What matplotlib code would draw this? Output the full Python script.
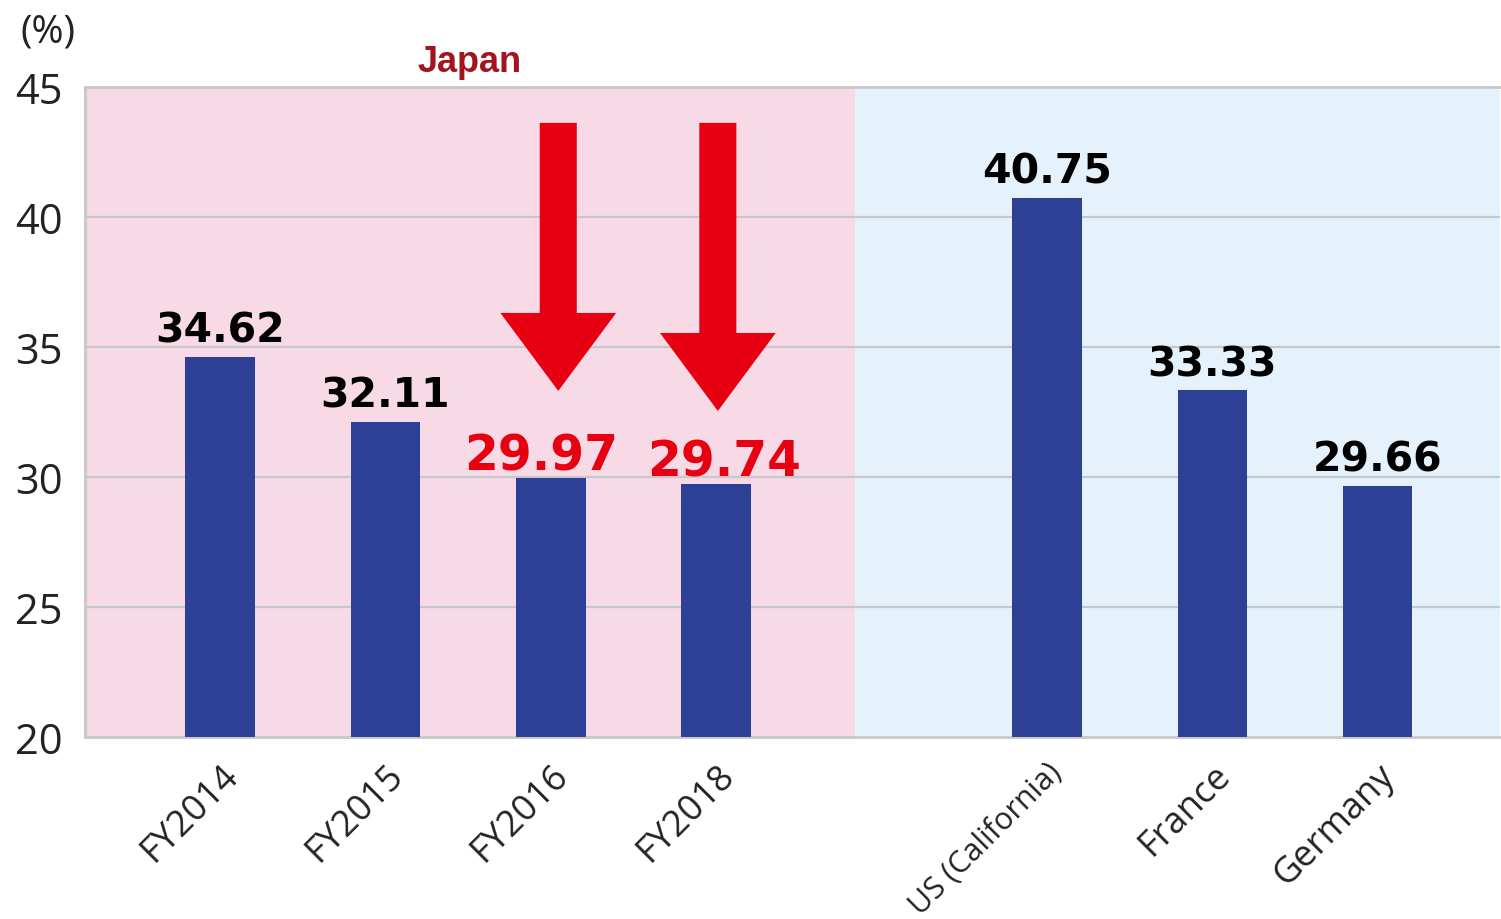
import numpy as np
import matplotlib.pyplot as plt
import matplotlib.transforms as mtransforms

categories = ['FY2014', 'FY2015', 'FY2016', 'FY2018', 'US (California)', 'France', 'Germany']
positions = [0, 1, 2, 3, 5, 6, 7]
values = [34.62, 32.11, 29.97, 29.74, 40.75, 33.33, 29.66]
highlight = [False, False, True, True, False, False, False]

bar_color = '#2E4096'
red = '#E60012'
pink = '#F8D9E6'
light_blue = '#E5F2FB'
grid_color = '#C4C8CC'

fig = plt.figure(figsize=(15.01, 9.2), dpi=100)
ax = fig.add_axes([85 / 1501, 182 / 920, 1415 / 1501, 650 / 920])

xmin, xmax, split = -0.817, 7.74, 3.84
ax.set_xlim(xmin, xmax)
ax.set_ylim(20, 45)

# shaded regions: Japan on the left, other countries on the right
ax.axvspan(xmin, split, color=pink, zorder=0, lw=0)
ax.axvspan(split, xmax, color=light_blue, zorder=0, lw=0)

ax.set_yticks([20, 25, 30, 35, 40, 45])
for y in [25, 30, 35, 40]:
    ax.axhline(y, color=grid_color, lw=1.6, zorder=1)

ax.bar(positions, [v - 20 for v in values], bottom=20, width=0.42,
       color=bar_color, zorder=3)

red_shift = {2: -7, 3: 6}
for x, v, hl in zip(positions, values, highlight):
    if hl:
        ax.annotate(f'{v:.2f}', (x, v), xytext=(red_shift[x], 6), textcoords='offset points',
                    ha='center', va='baseline', fontsize=35, fontweight='bold',
                    color=red, family='DejaVu Sans', zorder=5)
    else:
        ax.annotate(f'{v:.2f}', (x, v), xytext=(0, 11), textcoords='offset points',
                    ha='center', va='baseline', fontsize=29.5, fontweight='bold',
                    color='black', family='DejaVu Sans', zorder=5)

# downward arrows over the FY2016 and FY2018 bars
for x, tip in [(2.045, 33.31), (3.01, 32.54)]:
    ax.arrow(x, 43.62, 0, tip - 43.62, width=0.224, head_width=0.70,
             head_length=3.0, length_includes_head=True,
             color=red, lw=0, zorder=4)

ax.text(1.51, 46.0, 'Japan', ha='center', va='center', fontsize=26,
        fontweight='bold', color='#A3141E', family='Liberation Sans', clip_on=False)
fig.text(48 / 1501, 1 - 32 / 920, '(%)', ha='center', va='center',
         fontsize=28, family='Open Sans', color='#222222')

ax.set_xticks(positions)
ax.set_xticklabels(categories, rotation=45, ha='right', rotation_mode='anchor',
                   fontsize=26, family='Open Sans', color='#222222')
for lbl in ax.get_xticklabels():
    if lbl.get_text().startswith('US'):
        lbl.set_fontsize(22)
        shift = mtransforms.ScaledTranslation(-0.22, 0.0, fig.dpi_scale_trans)
        lbl.set_transform(lbl.get_transform() + shift)
ax.tick_params(axis='x', length=0, pad=14)
ax.tick_params(axis='y', length=0, pad=16, labelsize=30, labelcolor='#222222')
for lbl in ax.get_yticklabels():
    lbl.set_family('Open Sans')

for side in ['top', 'bottom', 'left']:
    ax.spines[side].set_color('#C8C8C8')
    ax.spines[side].set_linewidth(2)
ax.spines['right'].set_visible(False)

fig.savefig('out.png', dpi=100, facecolor='white')
